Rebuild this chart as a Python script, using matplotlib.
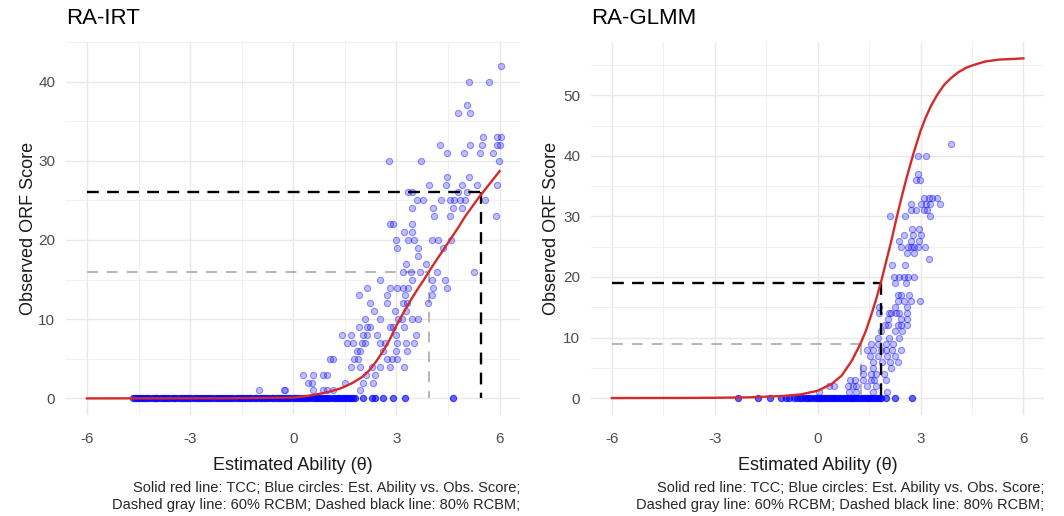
import matplotlib
matplotlib.use('Agg')
import matplotlib.pyplot as plt

plt.rcParams['font.family'] = ['Liberation Sans', 'DejaVu Sans']
plt.rcParams['axes.unicode_minus'] = False

# theta grid shared by the x axes
x_major = [-6, -3, 0, 3, 6]
x_minor = [-4.5, -1.5, 1.5, 4.5]

# ---- RA-IRT panel ----
irt_curve_theta = [-6, -2, 0, 0.4, 0.8, 1.1, 1.4, 1.7, 2.0, 2.2, 2.4, 2.6, 2.8, 3.0,
                   3.2, 3.4, 3.6, 3.8, 4.0, 4.2, 4.4, 4.6, 4.8, 5.0, 5.2, 5.4, 5.6,
                   5.8, 6.0]
irt_curve_score = [0, 0.01, 0.1, 0.3, 0.6, 0.9, 1.3, 1.9, 2.7, 3.5, 4.6, 5.9, 7.4, 9.2,
                   10.8, 12.3, 13.7, 15.0, 16.4, 17.7, 19.0, 20.3, 21.6, 23.0, 24.2, 25.4, 26.5,
                   27.6, 28.7]

irt_theta = [
    6.03,
    5.12, 5.70,
    5.04,
    4.80, 5.15,
    5.53, 5.93, 6.03,
    4.27, 5.15, 5.49, 5.93, 6.0,
    4.47, 4.97, 5.43, 5.81,
    2.79, 3.71, 5.99,
    4.47, 5.12,
    3.95, 4.44, 4.90, 5.33, 5.91,
    3.34, 3.44, 4.80, 5.04,
    3.59, 3.76, 4.28, 4.56, 4.67, 4.85, 5.0, 5.57,
    3.44, 4.07, 4.63, 4.90,
    4.10, 4.56, 5.89,
    2.81, 2.91, 3.44,
    3.22, 3.44,
    2.99, 3.33, 3.51, 4.02, 4.22, 4.58,
    3.02, 3.63, 4.36,
    3.63,
    3.27, 3.85,
    3.18, 3.41, 3.68, 4.17, 5.25,
    2.52, 3.44, 4.02, 4.41,
    2.15, 2.81, 3.01, 3.18, 3.34, 4.05, 4.46,
    1.92, 2.71, 3.25, 4.02,
    2.23, 2.71, 3.20, 3.30, 3.92,
    2.35, 2.96, 3.28,
    2.08, 2.52, 3.05, 3.17, 3.44, 3.63,
    1.91, 2.15, 2.23, 2.81, 2.91, 3.22,
    1.41, 1.67, 2.03, 2.15, 2.42, 2.99, 3.57,
    1.55, 1.74, 1.99, 2.08, 2.52, 2.67, 3.01, 3.28, 3.51,
    1.84, 1.94, 2.60, 2.99, 3.30,
    1.07, 1.16, 1.76, 1.89, 2.73, 2.86, 3.01,
    1.67, 1.94, 2.28, 2.52, 2.81, 3.22,
    0.27, 0.58, 0.85, 0.97, 2.11, 2.38,
    0.44, 0.53, 1.50, 2.03, 2.33,
    -1.0, -0.26, -0.24, 0.58, 0.87, 0.97, 1.16, 1.94,
]
irt_score = (
    [42] + [40] * 2 + [37] + [36] * 2 + [33] * 3 + [32] * 5 + [31] * 4 + [30] * 3
    + [28] * 2 + [27] * 5 + [26] * 4 + [25] * 8 + [24] * 4 + [23] * 3 + [22] * 3
    + [21] * 2 + [20] * 6 + [19] * 3 + [18] + [17] * 2 + [16] * 5 + [15] * 4
    + [14] * 7 + [13] * 4 + [12] * 5 + [11] * 3 + [10] * 6 + [9] * 6 + [8] * 7
    + [7] * 9 + [6] * 5 + [5] * 7 + [4] * 6 + [3] * 6 + [2] * 5 + [1] * 8
)
# students scoring zero
irt_zero_theta = [
    -4.66, -4.61, -4.55, -4.49, -4.42, -4.37, -4.3, -4.24, -4.19, -4.12, -4.06, -4.0,
    -3.95, -3.88, -3.82, -3.77, -3.7, -3.64, -3.58, -3.51, -3.46, -3.4, -3.33, -3.27,
    -3.21, -3.15, -3.08, -3.03, -2.96, -2.9, -2.84, -2.78, -2.72, -2.66, -2.59, -2.54,
    -2.47, -2.41, -2.35, -2.29, -2.23, -2.17, -2.1, -2.05, -1.98, -1.92, -1.86, -1.8,
    -1.74, -1.68, -1.61, -1.56, -1.49, -1.43, -1.37, -1.31, -1.25, -1.19, -1.12, -1.07,
    -1.0, -0.94, -0.88, -0.82, -0.76, -0.7, -0.63, -0.58, -0.51, -0.45, -0.39, -0.33,
    -0.27, -0.21, -0.14, -0.09, -0.02, 0.04, 0.1, 0.16, 0.22, 0.28, 0.35, 0.4, 0.47,
    0.53, 0.59, 0.65, 0.71, 0.77, 0.84, 0.89, 0.96, 1.02, 1.08, 1.14, 1.2, 1.26, 1.33,
    1.38, 1.45, 1.51, 1.57, 1.63, 1.69, 1.75, 1.79,
    2.03, 2.28, 2.38, 2.62, 2.91, 3.25, 4.63,
]
irt_cut80 = (5.45, 26)
irt_cut60 = (3.95, 16)

# ---- RA-GLMM panel ----
glmm_curve_theta = [-6, -4, -3, -2, -1, -0.5, 0, 0.4, 0.7, 1.0, 1.25, 1.4, 1.55, 1.7,
                    1.85, 2.0, 2.15, 2.3, 2.45, 2.6, 2.8, 3.0, 3.15, 3.3, 3.5, 3.7, 3.9,
                    4.1, 4.35, 4.6, 4.9, 5.3, 5.7, 6.0]
glmm_curve_score = [0, 0.02, 0.05, 0.12, 0.35, 0.6, 1.2, 2.3, 3.7, 6.2, 9.0, 11.0, 13.5, 16.2,
                    19.2, 22.6, 26.0, 29.7, 33.2, 36.5, 40.5, 44.1, 46.3, 48.2, 50.2, 51.8, 52.9,
                    53.8, 54.6, 55.1, 55.6, 55.9, 56.0, 56.1]

glmm_theta = [
    3.88,
    2.93, 3.15,
    2.93,
    2.86, 2.98,
    3.11, 3.25, 3.34, 3.47,
    2.71, 3.0, 3.17, 3.29, 3.58,
    2.71, 2.86, 3.10, 3.20,
    2.11, 2.54, 3.29,
    2.76, 2.95,
    2.52, 2.78, 3.0,
    2.37, 2.71, 2.95,
    2.42, 2.64, 2.71, 2.81, 2.92, 3.12,
    2.60, 2.81,
    3.24,
    2.16, 2.54,
    2.23, 2.37, 2.52, 2.63, 2.81,
    2.25, 2.57,
    2.33, 2.42, 2.66,
    2.34, 2.52, 2.71, 2.98,
    1.79, 2.25, 2.60,
    1.79, 2.08, 2.13, 2.28, 2.37, 2.62,
    2.05, 2.42, 2.60,
    1.97, 2.05, 2.33, 2.42, 2.62,
    1.84, 2.25, 2.47,
    1.76, 2.08, 2.37,
    1.55, 1.75, 2.0, 2.2,
    1.45, 1.60, 1.84, 1.99, 2.16, 2.42,
    1.53, 1.76, 2.01, 2.25,
    1.60, 1.89, 2.11, 2.33,
    1.31, 1.60, 2.13,
    1.31, 1.55, 1.69, 1.94,
    0.95, 1.08, 1.31, 1.55, 1.65, 1.99,
    0.33, 0.48, 0.89, 1.02, 1.11, 1.45, 1.69,
    0.05, 0.92, 1.11, 1.60, 2.03,
]
glmm_score = (
    [42] + [40] * 2 + [37] + [36] * 2 + [33] * 4 + [32] * 5 + [31] * 4 + [30] * 3
    + [28] * 2 + [27] * 3 + [26] * 3 + [25] * 6 + [24] * 2 + [23] + [22] * 2
    + [20] * 5 + [19] * 2 + [17] * 3 + [16] * 4 + [15] * 3 + [14] * 6 + [13] * 3
    + [12] * 5 + [11] * 3 + [10] * 3 + [9] * 4 + [8] * 6 + [7] * 4 + [6] * 4
    + [5] * 3 + [4] * 4 + [3] * 6 + [2] * 7 + [1] * 5
)
glmm_zero_theta = [
    -2.33, -1.74, -1.38, -1.07, -0.92, -0.83, -0.68, -0.6, -0.52, -0.45, -0.38, -0.3,
    -0.24, -0.18, -0.12, -0.06, 0.0, 0.05, 0.11, 0.16, 0.22, 0.27, 0.33, 0.38, 0.44,
    0.49, 0.55, 0.6, 0.66, 0.71, 0.77, 0.82, 0.88, 0.93, 0.99, 1.04, 1.1, 1.15, 1.21,
    1.26, 1.32, 1.37, 1.43, 1.48, 1.54, 1.59, 1.65, 1.7, 1.76, 1.81, 1.86,
    2.0, 2.25, 2.76,
]
glmm_cut80 = (1.86, 19)
glmm_cut60 = (1.26, 9)

caption = ('Solid red line: TCC; Blue circles: Est. Ability vs. Obs. Score;\n'
           'Dashed gray line: 60% RCBM; Dashed black line: 80% RCBM;')


def draw_panel(ax, title, yticks, ymax, curve_t, curve_s, pt_t, pt_s, zero_t, cut80, cut60,
               ylabel_pad):
    ax.set_xlim(-6.6, 6.6)
    ax.set_ylim(-0.05 * ymax, 1.05 * ymax)
    ax.set_xticks(x_major)
    ax.set_xticks(x_minor, minor=True)
    ax.set_yticks(yticks)
    ax.set_yticks([t + (yticks[1] - yticks[0]) / 2 for t in yticks], minor=True)
    ax.grid(which='major', color='#e8e8e8', lw=1.0)
    ax.grid(which='minor', color='#f0f0f0', lw=0.7)
    ax.set_axisbelow(True)
    for s in ax.spines.values():
        s.set_visible(False)
    ax.tick_params(which='both', length=0, labelsize=11, labelcolor='#4d4d4d')
    ax.tick_params(axis='x', pad=12)
    ax.tick_params(axis='y', pad=8)

    # cut-score guides
    ax.plot([-6, cut60[0]], [cut60[1], cut60[1]], color='#b0b0b0', lw=1.3, dashes=(6, 5), zorder=2)
    ax.plot([cut60[0], cut60[0]], [cut60[1], 0], color='#b0b0b0', lw=1.3, dashes=(6, 5), zorder=2)

    ax.scatter(pt_t, pt_s, s=20, facecolor=(0, 0, 1, 0.25), edgecolor=(0, 0, 1, 0.4),
               lw=0.8, zorder=3)
    ax.scatter(zero_t, [0] * len(zero_t), s=20, facecolor=(0, 0, 1, 0.6),
               edgecolor=(0, 0, 1, 0.7), lw=0.8, zorder=3)

    ax.plot([-6, cut80[0]], [cut80[1], cut80[1]], color='black', lw=1.7, dashes=(5, 3.5), zorder=4)
    ax.plot([cut80[0], cut80[0]], [cut80[1], 0], color='black', lw=1.7, dashes=(5, 3.5), zorder=4)

    ax.plot(curve_t, curve_s, color='#d42a2a', lw=1.7, zorder=5)

    ax.set_title(title, loc='left', fontsize=16, pad=13)
    ax.set_xlabel('Estimated Ability (θ)', fontsize=13, labelpad=8, color='#1a1a1a')
    ax.set_ylabel('Observed ORF Score', fontsize=13, labelpad=ylabel_pad, color='#1a1a1a')


fig = plt.figure(figsize=(10.64, 5.16), dpi=100)
ax1 = fig.add_axes([0.0623, 0.1957, 0.4267, 0.7229])
ax2 = fig.add_axes([0.5557, 0.1957, 0.4255, 0.7229])

draw_panel(ax1, 'RA-IRT', [0, 10, 20, 30, 40], 42, irt_curve_theta, irt_curve_score,
           irt_theta, irt_score, irt_zero_theta, irt_cut80, irt_cut60, 1)
draw_panel(ax2, 'RA-GLMM', [0, 10, 20, 30, 40, 50], 56, glmm_curve_theta, glmm_curve_score,
           glmm_theta, glmm_score, glmm_zero_theta, glmm_cut80, glmm_cut60, 2)

fig.text(0.4890, 0.038, caption, ha='right', va='center', fontsize=10.5, linespacing=1.25,
         color='#262626')
fig.text(0.9812, 0.038, caption, ha='right', va='center', fontsize=10.5, linespacing=1.25,
         color='#262626')

plt.savefig('out.png', dpi=100)
